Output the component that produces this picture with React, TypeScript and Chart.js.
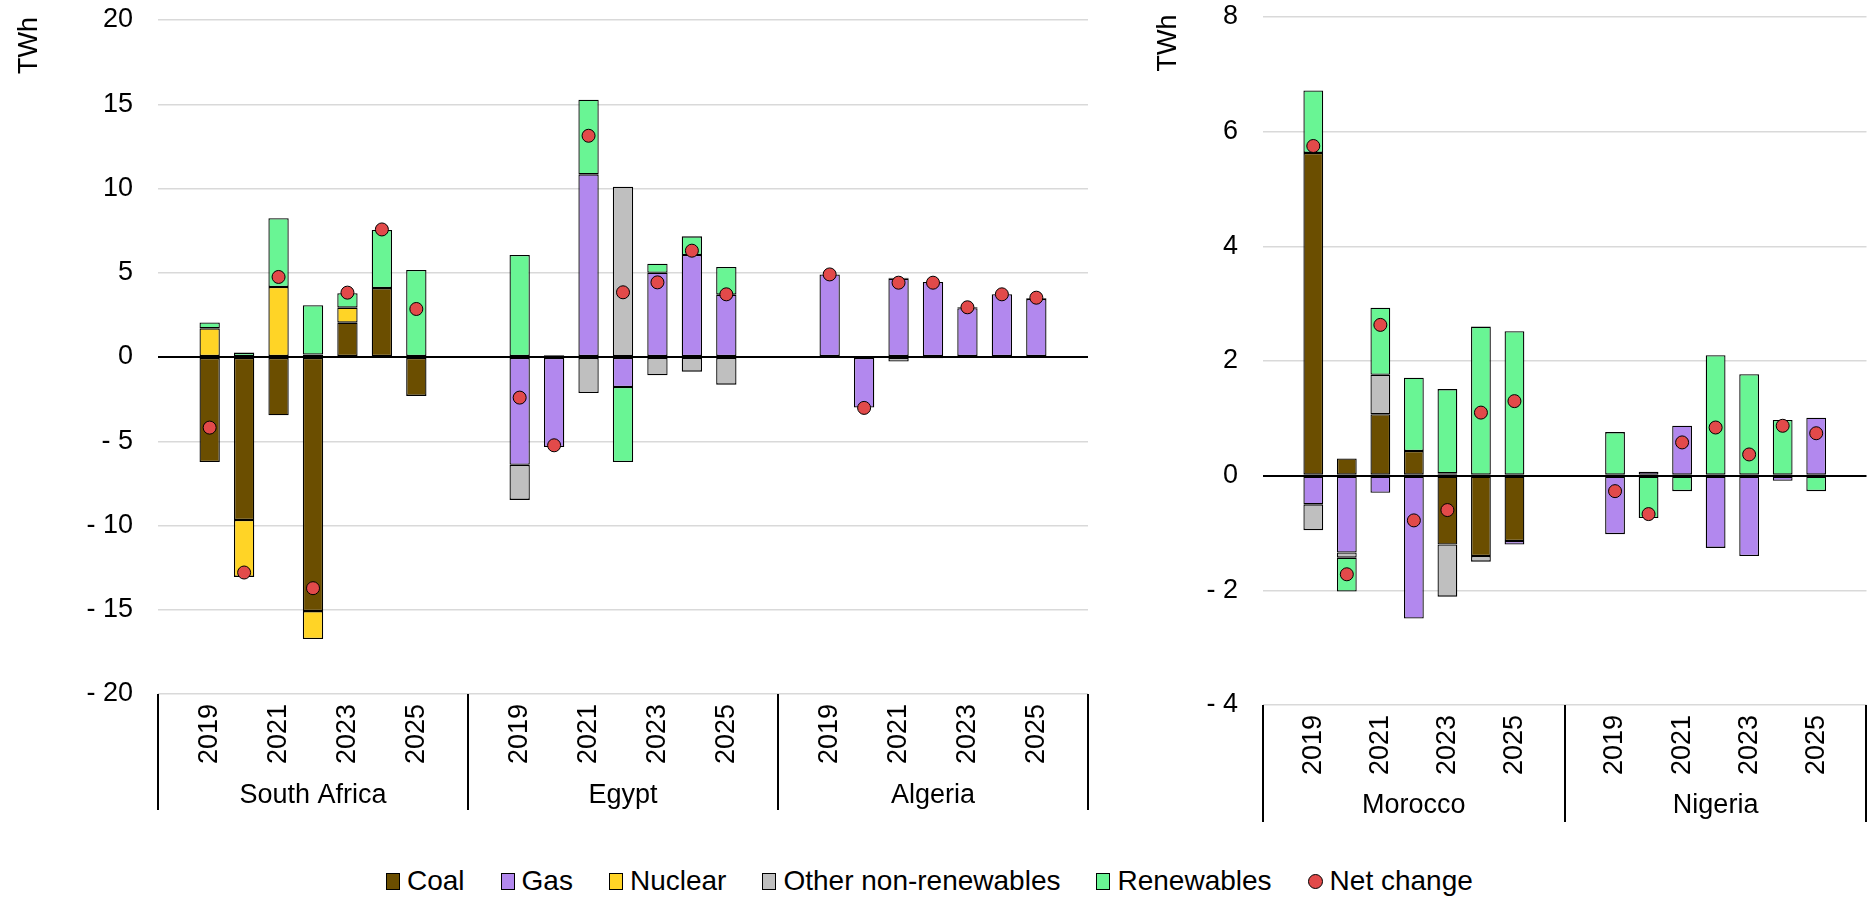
import React, { useEffect, useRef } from 'react';
import { Chart, registerables } from 'chart.js';

Chart.register(...registerables);

const FONT = '"Liberation Sans", Arial, sans-serif';
const n = null;

const YEARS = ['2019', '2020', '2021', '2022', '2023', '2024', '2025'];
const LEFT_COUNTRIES = ['South Africa', 'Egypt', 'Algeria'];
const RIGHT_COUNTRIES = ['Morocco', 'Nigeria'];

// Left panel: South Africa, Egypt, Algeria (2019..2025 each), TWh
const leftCoal = [-6.23, -9.67, -3.46, -15.08, 2.04, 4.09, -2.31, n, n, n, n, n, n, n, n, n, n, n, n, n, n];
const leftGas = [n, n, n, n, n, n, n, -6.4, -5.34, 10.84, -1.78, 5.0, 6.05, 3.7, 4.9, -3.0, 4.65, 4.45, 2.89, 3.72, 3.45];
const leftNuclear = [1.7, -3.38, 4.15, -1.66, 0.89, n, n, n, n, n, n, n, n, n, n, n, n, n, n, n, n];
const leftOther = [n, n, n, 0.15, n, n, n, -2.08, 0.1, -2.14, 10.1, -1.09, -0.87, -1.64, n, n, -0.27, -0.08, n, n, n];
const leftRenew = [0.35, 0.26, 4.08, 2.92, 0.85, 3.45, 5.16, 6.05, n, 4.43, -4.45, 0.54, 1.11, 1.64, n, n, 0.05, n, 0.06, n, 0.05];
const leftNet = [-4.19, -12.79, 4.75, -13.72, 3.82, 7.57, 2.85, -2.41, -5.24, 13.13, 3.84, 4.43, 6.31, 3.72, 4.9, -3.02, 4.41, 4.41, 2.95, 3.72, 3.52];

// Right panel: Morocco, Nigeria (2019..2025 each), TWh
const rightCoal = [5.63, 0.3, 1.07, 0.43, -1.2, -1.4, -1.14, n, n, n, n, n, n, n];
const rightGas = [-0.5, -1.34, -0.3, -2.49, 0.04, n, -0.06, -1.02, 0.07, 0.87, -1.26, -1.4, -0.09, 1.01];
const rightNuclear = [n, n, n, n, n, n, n, n, n, n, n, n, n, n];
const rightOther = [-0.45, -0.09, 0.69, n, -0.91, -0.1, n, n, n, n, n, n, n, n];
const rightRenew = [1.09, -0.59, 1.17, 1.28, 1.47, 2.6, 2.52, 0.76, -0.74, -0.27, 2.1, 1.77, 0.97, -0.27];
const rightNet = [5.75, -1.72, 2.63, -0.78, -0.6, 1.1, 1.3, -0.27, -0.67, 0.58, 0.84, 0.37, 0.87, 0.74];

const SERIES = ['Coal', 'Gas', 'Nuclear', 'Other non-renewables', 'Renewables'];
const COLORS = ['#6B4E00', '#B288EE', '#FFD426', '#BFBFBF', '#69F594'];
const NET_LABEL = 'Net change';
const NET_COLOR = '#E24A4A';

function padGroups(values: (number | null)[], groups: number) {
  const out: (number | null)[] = [];
  for (let g = 0; g < groups; g++) {
    out.push(null);
    for (let i = 0; i < YEARS.length; i++) out.push(values[g * YEARS.length + i]);
    out.push(null);
  }
  return out;
}

function makeLabels(groups: number) {
  const out: string[] = [];
  for (let g = 0; g < groups; g++) out.push('', ...YEARS, '');
  return out;
}

interface Panel {
  countries: string[];
  series: (number | null)[][];
  net: (number | null)[];
  yMin: number;
  yMax: number;
  step: number;
  axisWidth: number;
  padTop: number;
  padRight: number;
  xHeight: number;
  sepLen: number;
  countryY: number;
  twhX: number;
  twhY: number;
}

const LEFT_PANEL: Panel = {
  countries: LEFT_COUNTRIES,
  series: [leftCoal, leftGas, leftNuclear, leftOther, leftRenew],
  net: leftNet,
  yMin: -20, yMax: 20, step: 5,
  axisWidth: 158, padTop: 20, padRight: 22, xHeight: 136,
  sepLen: 116, countryY: 803, twhX: 36.5, twhY: 45.5,
};

const RIGHT_PANEL: Panel = {
  countries: RIGHT_COUNTRIES,
  series: [rightCoal, rightGas, rightNuclear, rightOther, rightRenew],
  net: rightNet,
  yMin: -4, yMax: 8, step: 2,
  axisWidth: 143, padTop: 17, padRight: 5, xHeight: 125,
  sepLen: 117, countryY: 813, twhX: 55.5, twhY: 43,
};

function makeChart(canvas: HTMLCanvasElement, p: Panel) {
  const groups = p.countries.length;
  const labels = makeLabels(groups);
  const datasets: any[] = [
    {
      type: 'line',
      label: NET_LABEL,
      data: padGroups(p.net, groups),
      showLine: false,
      pointRadius: 6.5,
      pointHoverRadius: 6.5,
      pointBackgroundColor: NET_COLOR,
      pointBorderColor: '#000',
      pointBorderWidth: 1,
      order: 0,
      stack: 'net',
    },
  ];
  SERIES.forEach((name, i) => {
    datasets.push({
      type: 'bar',
      label: name,
      data: padGroups(p.series[i], groups),
      backgroundColor: COLORS[i],
      borderColor: '#000',
      borderWidth: 1.3,
      borderSkipped: false,
      barPercentage: 0.59,
      categoryPercentage: 1,
      order: 1,
      stack: 'gen',
    });
  });

  const groupPlugin = {
    id: 'groupLabels',
    afterDraw(chart: any) {
      const { ctx, chartArea, scales } = chart;
      const x = scales.x;
      const slot = x.getPixelForValue(1) - x.getPixelForValue(0);
      ctx.save();
      ctx.strokeStyle = '#000';
      ctx.lineWidth = 2;
      for (let g = 0; g <= groups; g++) {
        const px = Math.round(x.getPixelForValue(g * 9) - slot / 2);
        ctx.beginPath();
        ctx.moveTo(px, chartArea.bottom);
        ctx.lineTo(px, chartArea.bottom + p.sepLen);
        ctx.stroke();
      }
      ctx.fillStyle = '#000';
      ctx.font = `27px ${FONT}`;
      ctx.textAlign = 'center';
      ctx.textBaseline = 'alphabetic';
      p.countries.forEach((c, g) => {
        const cx = (x.getPixelForValue(g * 9) + x.getPixelForValue(g * 9 + 8)) / 2;
        ctx.fillText(c, cx, p.countryY);
      });
      ctx.translate(p.twhX, p.twhY);
      ctx.rotate(-Math.PI / 2);
      ctx.fillText('TWh', 0, 0);
      ctx.restore();
    },
  };

  return new Chart(canvas, {
    type: 'bar',
    data: { labels, datasets },
    options: {
      responsive: false,
      animation: false,
      layout: { padding: { left: 0, right: p.padRight, top: p.padTop, bottom: 0 } },
      plugins: { legend: { display: false }, tooltip: { enabled: false } },
      scales: {
        x: {
          stacked: true,
          offset: true,
          grid: { display: false, drawTicks: false },
          border: { display: false },
          afterFit: (s: any) => {
            s.height = p.xHeight;
            s.paddingLeft = 0;
            s.paddingRight = 0;
          },
          ticks: {
            autoSkip: false,
            minRotation: 90,
            maxRotation: 90,
            padding: 10,
            color: '#000',
            font: { family: FONT, size: 27 },
            callback: (_v: any, i: number) => {
              const l = labels[i];
              return l && parseInt(l, 10) % 2 === 1 ? l : '';
            },
          },
        },
        y: {
          stacked: true,
          min: p.yMin,
          max: p.yMax,
          afterFit: (s: any) => {
            s.width = p.axisWidth;
            s.paddingTop = 0;
            s.paddingBottom = 0;
          },
          border: { display: false },
          grid: {
            drawTicks: false,
            color: (c: any) => (c.tick && c.tick.value === 0 ? '#000' : '#D9D9D9'),
            lineWidth: (c: any) => (c.tick && c.tick.value === 0 ? 2 : 1.5),
          },
          ticks: {
            stepSize: p.step,
            padding: 25,
            color: '#000',
            font: { family: FONT, size: 27 },
            callback: (v: any) => (v < 0 ? '- ' + Math.abs(v) : String(v)),
          },
        },
      },
    },
    plugins: [groupPlugin],
  } as any);
}

const legendItems = [
  ...SERIES.map((s, i) => ({ label: s, color: COLORS[i], dot: false })),
  { label: NET_LABEL, color: NET_COLOR, dot: true },
];

export default function App() {
  const leftRef = useRef<HTMLCanvasElement>(null);
  const rightRef = useRef<HTMLCanvasElement>(null);

  useEffect(() => {
    const c1 = makeChart(leftRef.current!, LEFT_PANEL);
    const c2 = makeChart(rightRef.current!, RIGHT_PANEL);
    return () => {
      c1.destroy();
      c2.destroy();
    };
  }, []);

  return (
    <div style={{ position: 'absolute', left: 0, top: 0, width: 1874, height: 898, background: '#fff', overflow: 'hidden' }}>
      <canvas ref={leftRef} width={1110} height={830} style={{ position: 'absolute', left: 0, top: 0 }} />
      <canvas ref={rightRef} width={754} height={830} style={{ position: 'absolute', left: 1120, top: 0 }} />
      <div
        style={{
          position: 'absolute',
          left: 386,
          top: 865,
          display: 'flex',
          alignItems: 'center',
          font: `28px ${FONT}`,
          lineHeight: '32px',
          whiteSpace: 'nowrap',
          color: '#000',
        }}
      >
        {legendItems.map((it) => (
          <div key={it.label} style={{ display: 'flex', alignItems: 'center', marginRight: 36 }}>
            <span
              style={{
                display: 'inline-block',
                boxSizing: 'border-box',
                width: it.dot ? 15 : 14,
                height: it.dot ? 15 : 17,
                borderRadius: it.dot ? '50%' : 0,
                border: '1.5px solid #000',
                background: it.color,
                marginRight: 7,
              }}
            />
            <span>{it.label}</span>
          </div>
        ))}
      </div>
    </div>
  );
}
